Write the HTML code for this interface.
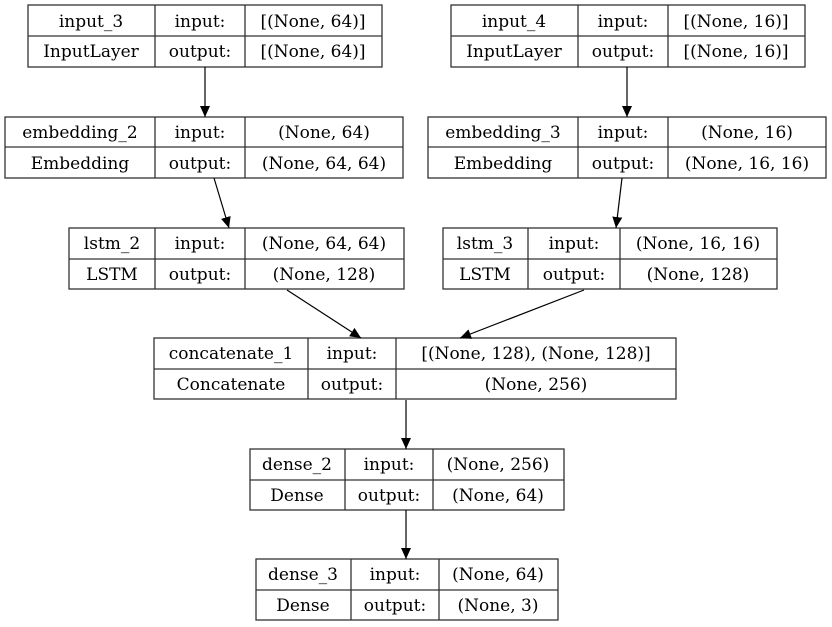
<!DOCTYPE html>
<html><head><style>body{margin:0;background:#fff}svg{display:block}text{font-family:"DejaVu Serif","Liberation Serif",serif;font-size:17px}</style></head><body>
<svg width="832" height="627" xmlns="http://www.w3.org/2000/svg" text-anchor="middle">
<defs><marker id="a" markerWidth="12" markerHeight="12" refX="11" refY="5.5" orient="auto" markerUnits="userSpaceOnUse"><path d="M0,0.5 L11,5.5 L0,10.5z" fill="#000"/></marker></defs>
<g fill="#fff" stroke="#333" stroke-width="1.3">
<rect x="28" y="5" width="354" height="62"/><line x1="28" y1="36" x2="382" y2="36"/><line x1="155" y1="5" x2="155" y2="67"/><line x1="245" y1="5" x2="245" y2="67"/>
<rect x="451" y="5" width="354" height="62"/><line x1="451" y1="36" x2="805" y2="36"/><line x1="578" y1="5" x2="578" y2="67"/><line x1="668" y1="5" x2="668" y2="67"/>
<rect x="5" y="117" width="398" height="61"/><line x1="5" y1="147" x2="403" y2="147"/><line x1="155" y1="117" x2="155" y2="178"/><line x1="245" y1="117" x2="245" y2="178"/>
<rect x="428" y="117" width="398" height="61"/><line x1="428" y1="147" x2="826" y2="147"/><line x1="578" y1="117" x2="578" y2="178"/><line x1="668" y1="117" x2="668" y2="178"/>
<rect x="69" y="228" width="335" height="61"/><line x1="69" y1="259" x2="404" y2="259"/><line x1="155" y1="228" x2="155" y2="289"/><line x1="245" y1="228" x2="245" y2="289"/>
<rect x="443" y="228" width="334" height="61"/><line x1="443" y1="259" x2="777" y2="259"/><line x1="528" y1="228" x2="528" y2="289"/><line x1="620" y1="228" x2="620" y2="289"/>
<rect x="154" y="338" width="522" height="61"/><line x1="154" y1="369" x2="676" y2="369"/><line x1="308" y1="338" x2="308" y2="399"/><line x1="396" y1="338" x2="396" y2="399"/>
<rect x="250" y="449" width="314" height="61"/><line x1="250" y1="480" x2="564" y2="480"/><line x1="345" y1="449" x2="345" y2="510"/><line x1="433" y1="449" x2="433" y2="510"/>
<rect x="256" y="559" width="302" height="61"/><line x1="256" y1="590" x2="558" y2="590"/><line x1="351" y1="559" x2="351" y2="620"/><line x1="439" y1="559" x2="439" y2="620"/>
</g>
<g stroke="#000" stroke-width="1.2" marker-end="url(#a)">
<line x1="205" y1="67" x2="205" y2="117"/>
<line x1="627" y1="67" x2="627" y2="117"/>
<line x1="214" y1="178" x2="229" y2="228"/>
<line x1="622" y1="178" x2="616" y2="228"/>
<line x1="287" y1="290" x2="361" y2="338"/>
<line x1="584" y1="290" x2="460" y2="338"/>
<line x1="406" y1="400" x2="406" y2="449"/>
<line x1="406" y1="510" x2="406" y2="559"/>
</g>
<g fill="#000">
<text x="91" y="27">input_3</text><text x="200" y="27">input:</text><text x="313" y="27">[(None, 64)]</text>
<text x="91" y="57">InputLayer</text><text x="200" y="57">output:</text><text x="313" y="57">[(None, 64)]</text>
<text x="514" y="27">input_4</text><text x="623" y="27">input:</text><text x="736" y="27">[(None, 16)]</text>
<text x="514" y="57">InputLayer</text><text x="623" y="57">output:</text><text x="736" y="57">[(None, 16)]</text>
<text x="80" y="138">embedding_2</text><text x="200" y="138">input:</text><text x="324" y="138">(None, 64)</text>
<text x="80" y="169">Embedding</text><text x="200" y="169">output:</text><text x="324" y="169">(None, 64, 64)</text>
<text x="503" y="138">embedding_3</text><text x="623" y="138">input:</text><text x="747" y="138">(None, 16)</text>
<text x="503" y="169">Embedding</text><text x="623" y="169">output:</text><text x="747" y="169">(None, 16, 16)</text>
<text x="112" y="249">lstm_2</text><text x="200" y="249">input:</text><text x="324" y="249">(None, 64, 64)</text>
<text x="112" y="280">LSTM</text><text x="200" y="280">output:</text><text x="324" y="280">(None, 128)</text>
<text x="485" y="249">lstm_3</text><text x="574" y="249">input:</text><text x="698" y="249">(None, 16, 16)</text>
<text x="485" y="280">LSTM</text><text x="574" y="280">output:</text><text x="698" y="280">(None, 128)</text>
<text x="231" y="359">concatenate_1</text><text x="352" y="359">input:</text><text x="536" y="359">[(None, 128), (None, 128)]</text>
<text x="231" y="390">Concatenate</text><text x="352" y="390">output:</text><text x="536" y="390">(None, 256)</text>
<text x="297" y="470">dense_2</text><text x="389" y="470">input:</text><text x="498" y="470">(None, 256)</text>
<text x="297" y="501">Dense</text><text x="389" y="501">output:</text><text x="498" y="501">(None, 64)</text>
<text x="303" y="580">dense_3</text><text x="395" y="580">input:</text><text x="498" y="580">(None, 64)</text>
<text x="303" y="611">Dense</text><text x="395" y="611">output:</text><text x="498" y="611">(None, 3)</text>
</g>
</svg>
</body></html>
